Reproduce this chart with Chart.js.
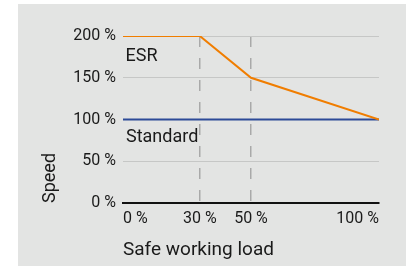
<!DOCTYPE html>
<html>
<head>
<meta charset="utf-8">
<script src="https://cdn.jsdelivr.net/npm/chart.js@4.4.0/dist/chart.umd.min.js"></script>
<style>
   body { margin: 0; background: #fff; }
   #panel {
      position: absolute;
      left: 18px;
      top: 4px;
      width: 388px;
      height: 262px;
      background: #e3e4e3;
   }
</style>
</head>
<body>
<div id="panel"><canvas id="speedChart" width="388" height="262"></canvas></div>
<script>
// data
const seriesNames = ['ESR', 'Standard'];
const esrLoad = [0, 30, 50, 100];
const esrSpeed = [200, 200, 150, 100];
const standardLoad = [0, 100];
const standardSpeed = [100, 100];
const loadTicks = [0, 30, 50, 100];
const speedTicks = [0, 50, 100, 150, 200];
const markedLoads = [30, 50];

const toPoints = (xs, ys) => xs.map((x, i) => ({ x, y: ys[i] }));

// series names written under each line
const seriesLabels = {
   id: 'seriesLabels',
   afterDatasetsDraw(chart) {
      const { ctx, scales: { x, y } } = chart;
      ctx.save();
      ctx.font = '18px Roboto';
      ctx.fillStyle = '#1a1a1a';
      ctx.textAlign = 'left';
      ctx.textBaseline = 'alphabetic';
      ctx.fillText(seriesNames[0], x.getPixelForValue(esrLoad[0]) + 2.5, y.getPixelForValue(esrSpeed[0]) + 24.5);
      ctx.fillText(seriesNames[1], x.getPixelForValue(standardLoad[0]) + 3, y.getPixelForValue(standardSpeed[0]) + 22.5);
      ctx.restore();
   }
};

new Chart(document.getElementById('speedChart').getContext('2d'), {
   type: 'line',
   data: {
      datasets: [
         {
            label: seriesNames[0],
            data: toPoints(esrLoad, esrSpeed),
            borderColor: '#f07d00',
            borderWidth: 2,
            pointRadius: 0,
            tension: 0,
            order: 1
         },
         {
            label: seriesNames[1],
            data: toPoints(standardLoad, standardSpeed),
            borderColor: '#2d4a98',
            borderWidth: 2,
            pointRadius: 0,
            tension: 0,
            order: 2
         }
      ]
   },
   options: {
      responsive: false,
      animation: false,
      layout: { padding: { left: 22, right: 27, top: 32, bottom: 4 } },
      plugins: {
         legend: { display: false },
         tooltip: { enabled: false }
      },
      scales: {
         x: {
            type: 'linear',
            min: 0,
            max: 100,
            afterBuildTicks: scale => { scale.ticks = loadTicks.map(value => ({ value })); },
            afterFit: scale => { scale.height = 59; },
            ticks: {
               align: 'inner',
               padding: 6,
               color: '#1a1a1a',
               font: { family: 'Roboto', size: 16 },
               callback: v => v + ' %'
            },
            grid: {
               drawTicks: false,
               lineWidth: 1.5,
               color: c => markedLoads.includes(c.tick && c.tick.value) ? '#a9a9a9' : 'transparent'
            },
            border: { display: true, color: '#111', width: 2, dash: [11, 11] },
            title: {
               display: true,
               text: 'Safe working load',
               align: 'start',
               color: '#1a1a1a',
               font: { family: 'Roboto', size: 19 },
               padding: 0
            }
         },
         y: {
            min: 0,
            max: 200,
            afterBuildTicks: scale => { scale.ticks = speedTicks.map(value => ({ value })); },
            afterFit: scale => { scale.width = 83; },
            ticks: {
               padding: 7,
               color: '#1a1a1a',
               font: { family: 'Roboto', size: 16 },
               callback: v => v + ' %'
            },
            grid: {
               drawTicks: false,
               lineWidth: 1,
               color: c => (c.tick && c.tick.value === 0) ? 'transparent' : '#c6c7c6'
            },
            border: { display: false },
            title: {
               display: true,
               text: 'Speed',
               align: 'start',
               color: '#1a1a1a',
               font: { family: 'Roboto', size: 18 },
               padding: 0
            }
         }
      }
   },
   plugins: [seriesLabels]
});
</script>
</body>
</html>
